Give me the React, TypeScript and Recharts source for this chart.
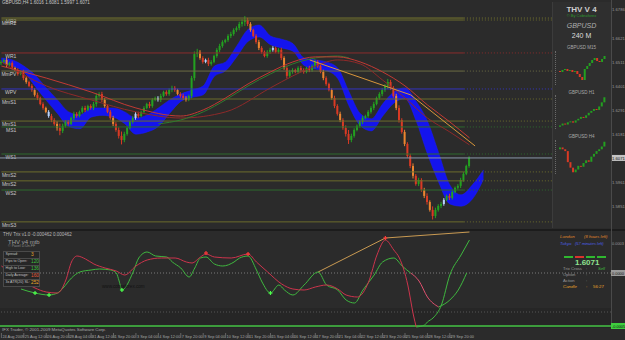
import React from 'react';
import {
  ComposedChart, Bar, Line, Area, Scatter, XAxis, YAxis, ReferenceLine, ReferenceArea,
} from 'recharts';

const BG = '#2b2b2b';
const FONT = '"Liberation Sans", Arial, sans-serif';

// ---- main window, GBPUSD H4, prices kept as pips above 1.6000 ----
const firstOpen = 505;
const closes = [
  511, 520, 497, 506, 483, 474, 456, 465, 437, 419, 401, 382,
  360, 346, 318, 300, 282, 263, 245, 227, 208, 195, 218, 236,
  227, 254, 273, 263, 282, 300, 291, 309, 300, 318, 355, 364,
  337, 309, 282, 254, 227, 199, 172, 153, 181, 208, 236, 254,
  273, 263, 282, 300, 318, 309, 337, 346, 337, 355, 373, 364,
  382, 392, 382, 364, 355, 346, 337, 355, 437, 547, 557, 529,
  511, 520, 502, 511, 538, 566, 584, 602, 611, 630, 639, 657,
  666, 685, 694, 703, 685, 657, 630, 602, 575, 557, 538, 557,
  566, 575, 557, 566, 529, 483, 447, 465, 474, 465, 483, 474,
  465, 483, 474, 492, 511, 492, 465, 437, 410, 382, 346, 309,
  273, 245, 208, 181, 153, 172, 199, 218, 236, 254, 263, 282,
  300, 318, 346, 364, 382, 401, 419, 392, 355, 300, 245, 190,
  135, 80, 34, -11, -48, -30, -76, -103, -131, -167, -195, -167,
  -149, -140, -121, -103, -112, -85, -66, -57, -30, -2, 34, 71,
];
// wick length in pips, each side of the body
const wicks = [
  8, 6, 10, 6, 8, 6, 8, 6, 10, 8, 6, 8,
  8, 10, 6, 8, 6, 8, 10, 8, 12, 20, 10, 8,
  8, 6, 10, 8, 6, 8, 10, 6, 8, 10, 12, 8,
  10, 8, 6, 8, 10, 8, 12, 20, 10, 8, 6, 8,
  8, 10, 6, 8, 6, 10, 8, 6, 8, 10, 6, 8,
  8, 10, 8, 6, 8, 10, 8, 6, 10, 12, 14, 8,
  8, 6, 10, 8, 6, 8, 10, 8, 6, 8, 10, 8,
  8, 10, 12, 18, 10, 8, 6, 8, 10, 8, 6, 8,
  10, 8, 6, 8, 10, 8, 12, 10, 8, 6, 8, 10,
  8, 6, 10, 8, 12, 8, 6, 10, 8, 6, 8, 10,
  8, 10, 8, 12, 18, 10, 8, 6, 8, 10, 6, 8,
  8, 10, 6, 8, 10, 8, 14, 10, 8, 10, 12, 8,
  10, 8, 10, 12, 8, 10, 8, 10, 12, 8, 16, 10,
  8, 10, 8, 6, 10, 8, 6, 8, 10, 8, 6, 8,
];
const orangeBars = [2, 5, 9, 12, 16, 20, 22, 37, 40, 63, 66, 71, 89, 92, 101, 115, 118, 121, 141, 144, 147, 151, 153];
const paleBars = [17, 48, 56, 73, 97, 158];

// cloud: [bar, upper, lower]
const cloud = [
  [0, 529, 511], [4, 520, 492], [8, 492, 465], [12, 451, 400], [16, 392, 335], [20, 337, 275],
  [24, 282, 215], [28, 268, 205], [32, 300, 258], [36, 300, 266], [40, 300, 258], [44, 282, 228],
  [48, 254, 180], [52, 268, 190], [56, 300, 215], [60, 337, 275], [64, 364, 330], [68, 382, 348],
  [72, 401, 360], [76, 492, 445], [80, 511, 470], [84, 585, 535], [88, 660, 605], [92, 680, 625],
  [96, 630, 590], [100, 615, 575], [104, 595, 560], [108, 529, 495], [112, 520, 478], [116, 511, 470],
  [120, 483, 435], [124, 375, 310], [128, 275, 220], [132, 250, 195], [136, 318, 262], [140, 373, 322],
  [144, 392, 342], [148, 330, 240], [152, 240, 90], [156, 95, -40], [160, -53, -140], [164, -98, -150],
  [168, -53, -118], [172, 16, -28],
];
const redMa = [
  [0, 492], [16, 437], [32, 373], [48, 300], [64, 263], [72, 291], [80, 346], [88, 410], [96, 465],
  [104, 511], [112, 534], [120, 534], [128, 511], [136, 465], [144, 401], [152, 314], [160, 236], [167, 163],
];
const darkRedMa = [
  [0, 511], [16, 401], [32, 337], [48, 282], [64, 254], [80, 282], [96, 392], [104, 447], [112, 492],
  [120, 520], [128, 502], [136, 428], [144, 346], [152, 254], [160, 190], [167, 131],
];
const greenMa = [
  [56, 227], [64, 245], [72, 282], [80, 337], [88, 401], [96, 456], [104, 502], [112, 529], [120, 538], [124, 529],
];
const orangeMa = [[110, 520], [146, 360], [169, 126]];

const levelNames = ['MR2', 'MmR2', 'WR1', 'MmPV', 'WPV', 'MmS1', 'MmS1', 'MS1', 'WS1', 'MmS2', 'MmS2', 'WS2', 'MmS3'];
const levelPips = [712, 703, 552, 469, 387, 341, 240, 213, 89, 7, -34, -76, -222];
const levelColors = ['#77772e', '#6c6c2c', '#8a2c2c', '#6c6c44', '#3434c0', '#6c6c2c', '#6c6c2c', '#2e6a2e', '#2e6a2e', '#6c6c2c', '#6c6c2c', '#2e6a2e', '#6c6c2c'];
const bidPrice = 1.6071;

const priceTicks = [
  1.5796, 1.5851, 1.5906, 1.5961, 1.6016, 1.6071, 1.6126, 1.6181, 1.6236, 1.6291,
  1.6346, 1.6401, 1.6456, 1.6511, 1.6566, 1.6621, 1.6676, 1.6731, 1.6786,
];

// ---- THV Trix window, values x 1e-5 ----
const trixRed = [
  [0, 7], [4, -1], [8, -9], [12, -15], [16, -19], [20, -20], [23, -7], [25, 11], [27, 17], [30, 14],
  [33, 9], [37, 5], [41, 2], [44, -2], [48, 7], [52, 13], [57, 15], [62, 15], [66, 11], [68, 10],
  [71, 16], [73, 19], [76, 16], [82, 15], [88, 19], [91, 11], [95, 1], [100, -11], [104, -16], [108, -17],
  [112, -14], [116, -12], [120, -16], [123, -22], [127, -24], [131, -9], [134, 18], [137, 33], [140, 23],
  [142, 15], [145, -12], [147, -42], [148, -54],
];
const trixGreen = [
  [7, -16], [12, -20], [17, -22], [20, -20], [22, -15], [25, -5], [28, 1], [32, 3], [35, 4], [39, 3],
  [41, 0], [42, -8], [43, -17], [47, 1], [49, 15], [52, 21], [55, 17], [59, 16], [61, 11], [64, 5],
  [67, -4], [69, 5], [71, 15], [73, 16], [76, 9], [79, 7], [83, 11], [85, 15], [88, 17], [91, 3],
  [93, -9], [96, -20], [99, -12], [101, -17], [104, -22], [108, -12], [113, 1], [116, -12], [120, -17],
  [123, -27], [126, -30], [129, -17], [133, -2], [136, 11], [140, 15], [143, 7], [146, 0],
];
const trixPink = [[146, 0], [149, -8], [152, -24], [156, -34]];
const trixGreenSlow = [[156, -34], [160, -27], [163, -17], [166, 0]];
const trixGreenFast = [[148, -54], [151, -52], [152, -49], [154, -45], [157, -32], [160, -2], [164, 18], [167, 33]];
const trixTrend = [[113, 1], [137, 35], [167, 41]];
const buyMarks = [[12, -20], [17, -22], [43, -17], [96, -20]];
const sellMarks = [[73, 20], [88, 19], [137, 35]];
const oscTicks = [41, 30, 0, -39, -53];

const dateBars = [0, 8, 16, 24, 32, 40, 48, 56, 64, 72, 80, 88, 96, 104, 112, 120, 128, 136, 144, 152, 160];
const dateLabels = [
  '24 Aug 2009', '25 Aug 12:00', '26 Aug 20:00', '28 Aug 04:00', '31 Aug 12:00', '1 Sep 20:00',
  '3 Sep 04:00', '4 Sep 12:00', '7 Sep 20:00', '9 Sep 04:00', '10 Sep 12:00', '11 Sep 20:00',
  '15 Sep 04:00', '16 Sep 12:00', '17 Sep 20:00', '21 Sep 04:00', '22 Sep 12:00', '23 Sep 20:00',
  '25 Sep 04:00', '28 Sep 12:00', '29 Sep 20:00',
];

// mini charts in the side panel (first value is the first open), pips above 1.6000
const m15Series = [56, 55, 57, 58, 56, 57, 55, 56, 53, 50, 47, 58, 61, 64, 67, 69, 66, 65, 68, 71];
const h1Series = [-22, -18, -12, -15, -8, -5, -9, -2, 3, 9, 6, 14, 22, 28, 34, 31, 42, 55, 71];
const h4Series = [30, 40, 30, 20, -40, -70, -95, -80, -60, -65, -45, -30, -38, -10, 5, 20, 30, 45, 71];

const infoRows = [
  ['Spread:', '3', '#e6a52a'],
  ['Pips to Open:', '120', '#3fbf3f'],
  ['High to Low:', '136', '#3fbf3f'],
  ['Daily Average:', '160', '#e2583a'],
  ['3x ATR(20) SL:', '252', '#e6a52a'],
];

const TOTAL = 218;
const SOLID_END = 165;
const PANEL_START = 197;
const px = (p: number) => +(1.6 + p / 10000).toFixed(5);

const mainData: any[] = Array.from({ length: TOTAL }, (_, i) => {
  const row: any = { i };
  if (i < closes.length) {
    const o = px(i === 0 ? firstOpen : closes[i - 1]);
    const c = px(closes[i]);
    const w = wicks[i] / 10000;
    const h = Math.max(o, c) + w;
    const l = Math.min(o, c) - w;
    row.o = o; row.c = c; row.h = h; row.l = l; row.hl = [l, h];
    row.color = paleBars.includes(i) ? '#b9d3ff'
      : c >= o ? '#23a020'
      : orangeBars.includes(i) ? '#ec8530' : '#d93a24';
  }
  return row;
});
cloud.forEach(([i, t, b]) => { mainData[i].cloud = [px(b), px(t)]; });
redMa.forEach(([i, v]) => { mainData[i].redMa = px(v); });
darkRedMa.forEach(([i, v]) => { mainData[i].darkRedMa = px(v); });
greenMa.forEach(([i, v]) => { mainData[i].greenMa = px(v); });
orangeMa.forEach(([i, v]) => { mainData[i].orangeMa = px(v); });

const oscData: any[] = Array.from({ length: TOTAL }, (_, i) => ({ i }));
const put = (arr: number[][], key: string) => arr.forEach(([i, v]) => { oscData[i][key] = v; });
put(trixRed, 'red');
put(trixGreen, 'green');
put(trixPink, 'pink');
put(trixGreenSlow, 'green2');
put(trixGreenFast, 'green3');
put(trixTrend, 'trend');
const buyData = buyMarks.map(([i, v]) => ({ i, v }));
const sellData = sellMarks.map(([i, v]) => ({ i, v }));

const Candle = (props: any) => {
  const { x, y, width, height, payload } = props;
  if (!payload || payload.o == null) return null;
  const top = Math.min(y, y + height);
  const span = Math.abs(height);
  const k = span / (payload.h - payload.l || 1e-9);
  const bodyTop = top + (payload.h - Math.max(payload.o, payload.c)) * k;
  const bodyH = Math.max(1, Math.abs(payload.o - payload.c) * k);
  const cx = x + width / 2;
  return (
    <g>
      <line x1={cx} x2={cx} y1={top} y2={top + span} stroke={payload.color} strokeWidth={1} />
      <rect x={x} y={bodyTop} width={width} height={bodyH} fill={payload.color} />
    </g>
  );
};

const MiniBody = (props: any) => {
  const { x, y, width, height, payload } = props;
  const top = Math.min(y, y + height);
  const h = Math.max(1, Math.abs(height));
  return <rect x={x} y={top} width={width} height={h} fill={payload.c >= payload.o ? '#23a020' : '#d93a24'} />;
};

const LevelTag = (props: any) => {
  const vb = props.viewBox || {};
  return (
    <text x={(vb.x || 0) + 15} y={(vb.y || 0) + 5} textAnchor="end" fontSize={5} fill="#c8c8c8" fontFamily={FONT}>
      {props.tag}
    </text>
  );
};

const PriceTick = (props: any) => {
  const { x, y, payload } = props;
  const v = payload.value;
  const isBid = Math.abs(v - bidPrice) < 1e-6;
  return (
    <g>
      {isBid && <rect x={x - 1} y={y - 3} width={15} height={6} fill="#c4c4c4" />}
      <text x={x} y={y + 1.6} fontSize={4.2} fill={isBid ? '#111' : '#9a9a9a'} fontFamily={FONT}>
        {v.toFixed(4)}
      </text>
    </g>
  );
};

const OscTick = (props: any) => {
  const { x, y, payload } = props;
  const v = payload.value;
  const box = v === 0 ? '#9a9a9a' : v < -30 ? '#3ecf3e' : null;
  return (
    <g>
      {box && <rect x={x - 1} y={y - 3} width={15} height={6} fill={box} />}
      <text x={x} y={y + 1.5} fontSize={3.9} fill={box ? '#111' : '#9a9a9a'} fontFamily={FONT}>
        {(v / 100000).toFixed(4)}
      </text>
    </g>
  );
};

const DateTick = (props: any) => {
  const { x, y, payload } = props;
  const label = dateLabels[dateBars.indexOf(payload.value)];
  return (
    <g>
      <line x1={x} x2={x} y1={y + 5} y2={y + 10} stroke="#666" />
      <text x={x + 1} y={y + 9.5} fontSize={3.9} fill="#a8a8a8" fontFamily={FONT}>{label}</text>
    </g>
  );
};

const Cross = (props: any) => {
  const { cx, cy, color } = props;
  return (
    <g stroke={color} strokeWidth={1.2}>
      <line x1={cx - 2} x2={cx + 2} y1={cy} y2={cy} />
      <line x1={cx} x2={cx} y1={cy - 2} y2={cy + 2} />
    </g>
  );
};

const MiniCandles = ({ series, top }: { series: number[]; top: number }) => {
  const data = series.slice(1).map((c, k) => {
    const o = series[k];
    return { k, o, c, body: [Math.min(o, c), Math.max(o, c)] };
  });
  return (
    <div style={{ position: 'absolute', left: 555, top, borderLeft: '1px dotted #6a6a6a' }}>
      <ComposedChart width={52} height={34} data={data} margin={{ top: 1, right: 2, bottom: 1, left: 3 }}>
        <XAxis dataKey="k" hide />
        <YAxis hide domain={['dataMin - 4', 'dataMax + 4']} />
        <Bar dataKey="body" barSize={2} shape={<MiniBody />} isAnimationActive={false} />
      </ComposedChart>
    </div>
  );
};

const txt = (s: React.CSSProperties): React.CSSProperties => ({
  position: 'absolute', fontFamily: FONT, whiteSpace: 'nowrap', lineHeight: 1, ...s,
});

export default function App() {
  const levelLines: React.ReactElement[] = [];
  levelPips.forEach((p, k) => {
    levelLines.push(
      <ReferenceLine key={`s${k}`} segment={[{ x: 0, y: px(p) }, { x: SOLID_END, y: px(p) }]}
        stroke={levelColors[k]} label={<LevelTag tag={levelNames[k]} />} />,
      <ReferenceLine key={`d${k}`} segment={[{ x: SOLID_END, y: px(p) }, { x: PANEL_START, y: px(p) }]}
        stroke={levelColors[k]} strokeDasharray="1 2" />,
    );
  });

  return (
    <div style={{ position: 'fixed', left: 0, top: 0, width: 625, height: 340, background: BG, overflow: 'hidden' }}>
      {/* main price window */}
      <div style={{ position: 'absolute', left: 0, top: 0 }}>
        <ComposedChart width={625} height={230} data={mainData} margin={{ top: 2, right: 0, bottom: 2, left: 0 }}>
          <XAxis dataKey="i" hide />
          <YAxis orientation="right" width={14} type="number" domain={[1.575, 1.67855]} ticks={priceTicks}
            tick={<PriceTick />} axisLine={false} tickLine={false} tickSize={0} tickMargin={1} allowDataOverflow />
          {levelLines}
          <ReferenceLine y={bidPrice} stroke="#8a98ac" />
          <Area dataKey="cloud" type="monotone" stroke="#1a1aff" strokeWidth={0.5} fill="#1414ee" fillOpacity={1}
            connectNulls isAnimationActive={false} />
          <Line dataKey="darkRedMa" type="monotone" stroke="#8e2a2a" strokeWidth={1} dot={false} connectNulls isAnimationActive={false} />
          <Line dataKey="greenMa" type="monotone" stroke="#2f7a2f" strokeWidth={1} dot={false} connectNulls isAnimationActive={false} />
          <Bar dataKey="hl" barSize={2} shape={<Candle />} isAnimationActive={false} />
          <Line dataKey="redMa" type="monotone" stroke="#c23a34" strokeWidth={1} dot={false} connectNulls isAnimationActive={false} />
          <Line dataKey="orangeMa" type="linear" stroke="#d8963a" strokeWidth={1} dot={false} connectNulls isAnimationActive={false} />
        </ComposedChart>
      </div>

      <div style={txt({ left: 2, top: 1, fontSize: 4.6, color: '#c8c8c8' })}>GBPUSD,H4 1.6016 1.6081 1.5997 1.6071</div>

      {/* side panel */}
      <div style={{ position: 'absolute', left: 552, top: 2, width: 59, height: 226, background: '#2f2f2f', borderLeft: '1px solid #3c3c3c' }} />
      <div style={txt({ left: 552, width: 59, textAlign: 'center', top: 6, fontSize: 8, fontWeight: 'bold', color: '#cfcfcf' })}>THV V 4</div>
      <div style={txt({ left: 552, width: 59, textAlign: 'center', top: 14, fontSize: 4, color: '#2e9a2e' })}>© By Cobraforex</div>
      <div style={txt({ left: 552, width: 59, textAlign: 'center', top: 22, fontSize: 7, fontStyle: 'italic', color: '#b0b0b0' })}>GBPUSD</div>
      <div style={txt({ left: 552, width: 59, textAlign: 'center', top: 32, fontSize: 7, color: '#dddddd' })}>240 M</div>
      <div style={txt({ left: 552, width: 59, textAlign: 'center', top: 46, fontSize: 4.5, color: '#a8a8a8' })}>GBPUSD M15</div>
      <MiniCandles series={m15Series} top={51} />
      <div style={txt({ left: 552, width: 59, textAlign: 'center', top: 91, fontSize: 4.5, color: '#a8a8a8' })}>GBPUSD H1</div>
      <MiniCandles series={h1Series} top={95} />
      <div style={txt({ left: 552, width: 59, textAlign: 'center', top: 135, fontSize: 4.5, color: '#a8a8a8' })}>GBPUSD H4</div>
      <MiniCandles series={h4Series} top={140} />

      {/* separators */}
      <div style={{ position: 'absolute', left: 0, top: 229, width: 625, height: 2, background: '#1c1c1c' }} />
      <div style={{ position: 'absolute', left: 611, top: 0, width: 1, height: 328, background: '#4a4a4a' }} />

      {/* trix window */}
      <div style={{ position: 'absolute', left: 0, top: 231 }}>
        <ComposedChart width={625} height={109} data={oscData} margin={{ top: 0, right: 0, bottom: 0, left: 0 }}>
          <XAxis dataKey="i" type="number" domain={[-0.5, 217.5]} ticks={dateBars} interval={0} tick={<DateTick />}
            height={12} axisLine={false} tickLine={false} tickSize={0} tickMargin={0} allowDataOverflow />
          <YAxis orientation="right" width={14} type="number" domain={[-55, 42]} ticks={oscTicks} tick={<OscTick />}
            axisLine={false} tickLine={false} tickSize={0} tickMargin={1} allowDataOverflow />
          <ReferenceArea y1={-55} y2={-35} fill="#262626" fillOpacity={1} />
          <ReferenceLine y={0} stroke="#7a7a7a" strokeDasharray="1 2" />
          <ReferenceLine y={-39} stroke="#555" strokeDasharray="1 2" />
          <ReferenceLine y={-53} stroke="#3c9c3c" strokeWidth={2} />
          <Line dataKey="trend" type="linear" stroke="#c99a52" strokeWidth={1} dot={false} connectNulls isAnimationActive={false} />
          <Line dataKey="green" type="monotone" stroke="#3fb83f" strokeWidth={1} dot={false} connectNulls isAnimationActive={false} />
          <Line dataKey="red" type="monotone" stroke="#cc344c" strokeWidth={1} dot={false} connectNulls isAnimationActive={false} />
          <Line dataKey="pink" type="monotone" stroke="#e0506e" strokeWidth={1} dot={false} connectNulls isAnimationActive={false} />
          <Line dataKey="green2" type="monotone" stroke="#3fb83f" strokeWidth={1} dot={false} connectNulls isAnimationActive={false} />
          <Line dataKey="green3" type="monotone" stroke="#3fb83f" strokeWidth={1} dot={false} connectNulls isAnimationActive={false} />
          <Scatter data={buyData} dataKey="v" shape={<Cross color="#4cff4c" />} isAnimationActive={false} />
          <Scatter data={sellData} dataKey="v" shape={<Cross color="#ff3a3a" />} isAnimationActive={false} />
        </ComposedChart>
      </div>

      <div style={txt({ left: 3, top: 233, fontSize: 4.5, color: '#b8b8b8' })}>THV Trix v1.0 -0.000462 0.000462</div>
      <div style={txt({ left: 8, top: 239, fontSize: 6, color: '#a0a0a0' })}>THV  v4  mtb</div>
      <div style={txt({ left: 8, top: 245, fontSize: 3.6, color: '#909090' })}>© Pavel D.Un.FF</div>
      {infoRows.map(([label, value, color], k) => (
        <div key={label} style={{ position: 'absolute', left: 3, top: 251 + k * 7, width: 35, height: 6, border: '1px solid #4a4a4a', background: '#262626' }}>
          <span style={txt({ left: 1.5, top: 1.2, fontSize: 3.6, color: '#c0c0c0' })}>{label}</span>
          <span style={txt({ left: 27, top: 0.6, fontSize: 4.8, color })}>{value}</span>
        </div>
      ))}
      <div style={txt({ left: 102, top: 285, fontSize: 4.6, color: '#121212' })}>www.cobraforex.com</div>

      <div style={txt({ left: 560, top: 235, fontSize: 4.4, fontStyle: 'italic', color: '#e08a2c' })}>London</div>
      <div style={txt({ left: 584, top: 235, fontSize: 4.2, fontStyle: 'italic', color: '#e08a2c' })}>(8 hours left)</div>
      <div style={txt({ left: 560, top: 242, fontSize: 4.4, fontStyle: 'italic', color: '#4b5fe6' })}>Tokyo</div>
      <div style={txt({ left: 575, top: 242, fontSize: 4.0, fontStyle: 'italic', color: '#4b5fe6' })}>(57 minutes left)</div>
      {['#2fb82f', '#d9342c', '#2fb82f', '#2fb82f'].map((c, k) => (
        <div key={k} style={{ position: 'absolute', left: 564 + k * 11, top: 256, width: 9, height: 2, background: c }} />
      ))}
      <div style={txt({ left: 575, top: 259, fontSize: 8, fontWeight: 'bold', color: '#8fe38f' })}>1.6071</div>
      <div style={txt({ left: 563, top: 267, fontSize: 4.2, color: '#9a9a9a' })}>Trix Cross</div>
      <div style={txt({ left: 586, top: 267, fontSize: 4.2, color: '#9a9a9a' })}>:</div>
      <div style={txt({ left: 598, top: 267, fontSize: 4.2, fontStyle: 'italic', color: '#3fbf3f' })}>Sell</div>
      <div style={txt({ left: 563, top: 273, fontSize: 4.2, color: '#9a9a9a' })}>Option</div>
      <div style={txt({ left: 586, top: 273, fontSize: 4.2, color: '#9a9a9a' })}>:</div>
      <div style={txt({ left: 563, top: 279, fontSize: 4.2, color: '#9a9a9a' })}>Action</div>
      <div style={txt({ left: 586, top: 279, fontSize: 4.2, color: '#9a9a9a' })}>:</div>
      <div style={txt({ left: 563, top: 285, fontSize: 4.4, fontStyle: 'italic', color: '#e6a52a' })}>Candle</div>
      <div style={txt({ left: 586, top: 285, fontSize: 4.4, color: '#e6a52a' })}>:</div>
      <div style={txt({ left: 593, top: 285, fontSize: 4.4, color: '#e6a52a' })}>56:27</div>

      <div style={txt({ left: 2, top: 328, fontSize: 4.4, color: '#a8a8a8' })}>IFX Trader, © 2001-2009 MetaQuotes Software Corp.</div>
    </div>
  );
}
